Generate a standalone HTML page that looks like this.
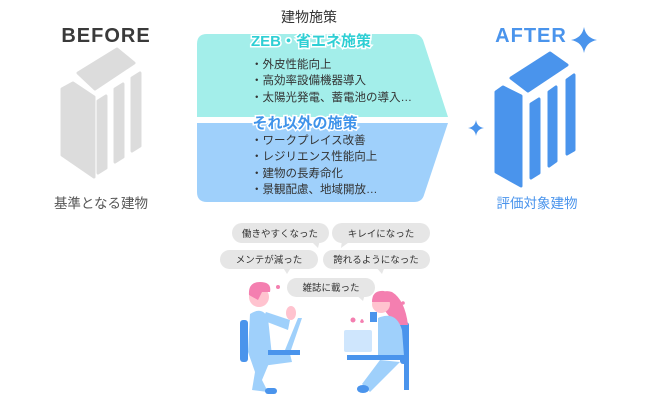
<!DOCTYPE html>
<html><head><meta charset="utf-8"><style>
html,body{margin:0;padding:0;background:#fff;}
body{width:650px;height:404px;position:relative;overflow:hidden;font-family:"Liberation Sans","Noto Sans CJK JP",sans-serif;}
</style></head><body>
<svg width="650" height="404" viewBox="0 0 650 404" xmlns="http://www.w3.org/2000/svg" style="position:absolute;left:0;top:0">
<g font-family="Liberation Sans, Noto Sans CJK JP, sans-serif">
<!-- BEFORE -->
<text x="106" y="42" font-size="20" font-weight="bold" fill="#3a3a3a" text-anchor="middle" letter-spacing="1">BEFORE</text>
<g fill="#dcdcdc" stroke="#dcdcdc" stroke-width="3" stroke-linejoin="round">
<polygon points="78,73 117,49 134,63 95,89"/>
<polygon points="62,89 73,83 94,97 94,177 62,155"/>
<polygon points="98,101 106,96 106,168 98,173"/>
<polygon points="115,89 123,84 123,157 115,162"/>
<polygon points="132,78 140,73 140,146 132,151"/>
</g>
<text x="101" y="208" font-size="13.5" fill="#555" text-anchor="middle">基準となる建物</text>
<!-- AFTER -->
<text x="531" y="42" font-size="20" font-weight="bold" fill="#4a94ec" text-anchor="middle" letter-spacing="1">AFTER</text>
<path d="M584,27 Q586,38 597,40 Q586,42 584,53 Q582,42 571,40 Q582,38 584,27Z" fill="#4a94ec"/>
<path d="M476,120 Q477,127 484,128 Q477,129 476,136 Q475,129 468,128 Q475,127 476,120Z" fill="#4a94ec"/>
<g fill="#4a94ec" stroke="#4a94ec" stroke-width="3" stroke-linejoin="round">
<polygon points="511,78 550,53 567,65 528,91"/>
<polygon points="496,92 503,87 521,96 521,186 496,172"/>
<polygon points="531,104 539,99 539,173 531,178"/>
<polygon points="549,92 556,87 556,161 549,166"/>
<polygon points="567,80 574,75 574,150 567,154"/>
</g>
<text x="537" y="208" font-size="13.5" fill="#4a94ec" text-anchor="middle">評価対象建物</text>
<!-- middle -->
<text x="309" y="22" font-size="14" fill="#333" text-anchor="middle">建物施策</text>
<path d="M207,34 H414 Q420,34 423,40 L448,117 H197 V44 Q197,34 207,34Z" fill="#a3eeea"/>
<path d="M197,123 H448 L424,195 Q422,202 414,202 H207 Q197,202 197,192Z" fill="#9fd0fb"/>
<text x="311" y="46" font-size="15" font-weight="bold" fill="#2fcfd4" stroke="#fff" stroke-width="3" paint-order="stroke" text-anchor="middle">ZEB・省エネ施策</text>
<text x="305" y="128" font-size="15" font-weight="bold" fill="#3f93ea" stroke="#fff" stroke-width="3" paint-order="stroke" text-anchor="middle">それ以外の施策</text>
<g font-size="11.5" fill="#333">
<text x="251" y="68">・外皮性能向上</text>
<text x="251" y="84">・高効率設備機器導入</text>
<text x="251" y="101">・太陽光発電、蓄電池の導入…</text>
<text x="251" y="144">・ワークプレイス改善</text>
<text x="251" y="160">・レジリエンス性能向上</text>
<text x="251" y="177">・建物の長寿命化</text>
<text x="251" y="193">・景観配慮、地域開放…</text>
</g>
<!-- bubbles -->
<g fill="#e6e6e6">
<rect x="232" y="223" width="97" height="20" rx="10"/><polygon points="310,240 320,240 318,248"/>
<rect x="332" y="223" width="98" height="20" rx="10"/><polygon points="342,240 352,240 341,248"/>
<rect x="220" y="250" width="98" height="19" rx="9.5"/><polygon points="282,266 292,266 287,274"/>
<rect x="323" y="250" width="107" height="19" rx="9.5"/><polygon points="375,266 385,266 382,274"/>
<rect x="287" y="278" width="88" height="19" rx="9.5"/><polygon points="355,294 365,294 363,301"/>
</g>
<g font-size="9.5" fill="#333" text-anchor="middle">
<text x="280" y="237">働きやすくなった</text>
<text x="381" y="237">キレイになった</text>
<text x="269" y="263">メンテが減った</text>
<text x="376" y="263">誇れるようになった</text>
<text x="331" y="291">雑誌に載った</text>
</g>
<!-- man -->
<g>
<rect x="240" y="320" width="8" height="42" rx="3" fill="#4a94ec"/>
<path d="M250,314 Q262,306 268,318 L272,356 L262,380 L268,392 L252,390 L255,372 L248,352Z" fill="#9fd0fb"/>
<path d="M255,355 L290,354 L292,362 L262,366Z" fill="#9fd0fb"/>
<rect x="268" y="350" width="32" height="5" fill="#4a94ec"/>
<polygon points="285,350 298,318 302,318 291,350" fill="#9fd0fb"/>
<path d="M262,320 L288,330 L290,320 L266,312Z" fill="#9fd0fb"/>
<circle cx="259" cy="297" r="10" fill="#ffc3cf"/>
<path d="M249,295 Q248,282 260,282 Q272,282 270,292 L262,292 L258,300 Z" fill="#f47fb0"/>
<ellipse cx="291" cy="313" rx="5" ry="7" fill="#ffc3cf"/>
<circle cx="278" cy="287" r="2" fill="#f47fb0"/>
<rect x="265" y="388" width="12" height="6" rx="3" fill="#4a94ec"/>
</g>
<!-- woman -->
<g>
<rect x="400" y="322" width="9" height="42" rx="3" fill="#4a94ec"/>
<path d="M378,302 Q380,288 392,292 Q405,300 408,325 L396,325Z" fill="#f47fb0"/>
<circle cx="381" cy="304" r="9" fill="#ffc3cf"/>
<path d="M372,302 Q372,290 384,291 Q392,294 390,302 Z" fill="#f47fb0"/>
<path d="M378,318 Q396,310 402,330 L404,356 L378,358Z" fill="#9fd0fb"/>
<rect x="344" y="330" width="28" height="22" rx="2" fill="#cfe6fd"/>
<rect x="347" y="355" width="62" height="5" fill="#4a94ec"/>
<path d="M380,360 L400,362 L370,392 L362,384Z" fill="#9fd0fb"/>
<rect x="404" y="360" width="5" height="30" fill="#4a94ec"/>
<rect x="370" y="312" width="7" height="10" fill="#4a94ec"/>
<path d="M360,322 Q362,316 364,322 Q362,324 360,322Z" fill="#f47fb0"/>
<circle cx="353" cy="320" r="2.5" fill="#f47fb0"/>
<circle cx="403" cy="303" r="1.8" fill="#f47fb0"/>
<ellipse cx="363" cy="389" rx="6" ry="4" fill="#4a94ec"/>
</g>
</g>
</svg>
</body></html>
